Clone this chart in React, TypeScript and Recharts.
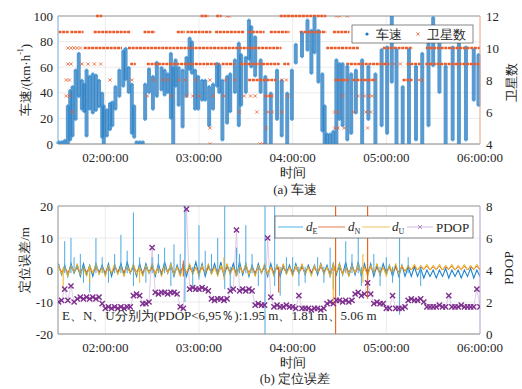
import React from "react";
import {
  ComposedChart,
  Scatter,
  Line,
  XAxis,
  YAxis,
  CartesianGrid,
  ReferenceLine,
} from "recharts";

const FONT = "Liberation Serif";

// time axis, minutes after midnight
const timeTicks = [120, 180, 240, 300, 360];
const timeLabels = ["02:00:00", "03:00:00", "04:00:00", "05:00:00", "06:00:00"];
const speedTicks = [0, 20, 40, 60, 80, 100];
const satTicks = [4, 5, 6, 7, 8, 9, 10, 11, 12];
const errTicks = [-20, -10, 0, 10, 20];
const pdopTicks = [0, 2, 4, 6, 8];

// vehicle speed: low / high of each short time slice (km/h)
const spdT = [
  90, 92, 94, 96, 97.5, 99, 101, 103, 105, 106.5, 108, 110, 112, 114, 116, 118, 119, 121, 123, 124.5,
  126.5, 129, 131.5, 133, 135, 137, 138.5, 140, 142, 144, 145.5, 148, 150.5, 153, 156, 158, 160, 162, 163.5, 165,
  167, 169.5, 172, 174, 175.5, 177.5, 179.5, 182, 184, 186.5, 189, 191.5, 193, 195, 198, 200, 203, 205.5, 207, 210,
  212, 213.5, 216, 219.5, 222.5, 226, 230, 233, 236.5, 239.5, 242, 246, 249.5, 252, 254, 256.5, 259, 260.5, 262, 264,
  266, 268, 270, 272, 275, 277.5, 280.5, 284.5, 288.5, 293, 297, 300.5, 303.5, 306.5, 310.5, 314.5, 319, 323, 327, 330,
  334, 338, 342.5, 346.5, 351, 356, 359,
];
const spdLo = [
  0, 0, 0, 0, 3, 6, 19, 37, 27, 25, 6, 27, 24, 26, 29, 5, 0, 6, 11, 14,
  27, 37, 45, 50, 40, 8, 5, 0, 0, 0, 19, 40, 27, 37, 42, 38, 40, 20, 0, 45,
  30, 13, 37, 58, 55, 27, 27, 34, 34, 14, 27, 45, 40, 3, 16, 25, 40, 14, 30, 40,
  66, 60, 53, 40, 0, 0, 19, 6, 0, 19, 63, 68, 73, 55, 71, 48, 10, 0, 0, 0,
  0, 0, 19, 14, 3, 8, 24, 0, 19, 0, 14, 8, 48, 0, 0, 0, 3, 0, 14, 61,
  40, 0, 3, 0, 3, 34, 30,
];
const spdHi = [
  2, 2, 3, 30, 42, 45, 58, 71, 50, 47, 58, 53, 55, 54, 50, 40, 30, 27, 32, 33,
  45, 58, 73, 75, 60, 47, 30, 2, 2, 2, 47, 59, 53, 64, 60, 58, 55, 71, 60, 66,
  60, 58, 68, 83, 80, 58, 53, 50, 50, 45, 47, 63, 62, 50, 53, 55, 66, 79, 70, 68,
  97, 92, 84, 66, 53, 40, 58, 50, 40, 58, 78, 87, 97, 89, 99, 89, 55, 30, 8, 8,
  10, 66, 63, 63, 61, 55, 58, 66, 61, 55, 74, 76, 100, 74, 45, 74, 61, 71, 79, 99,
  82, 61, 76, 82, 76, 74, 70,
];

// satellite count: continuous runs [start, end] per level
const satLevels = [12, 11, 10, 9, 8, 7];
const satRuns = [
  [[114, 118], [181, 186], [191, 194.5], [231.7, 261.5]],
  [[90, 96.5], [97.7, 106], [112.6, 136], [144.5, 152], [165.8, 171], [172, 188], [190.3, 209.4], [211.5, 222], [225.4, 238], [244.5, 261.5], [265.8, 276.4]],
  [[106.2, 130.7], [134.5, 232.8], [261.5, 282.8], [297.7, 316.8], [325.3, 360]],
  [[136, 139.5], [146.6, 193.5], [194.5, 203], [206.2, 231.7], [234, 238], [274.3, 302], [313, 322], [325, 360]],
  [[211.5, 229.6], [266.8, 276.4], [278.5, 293.4], [310.4, 316.8]],
  [[222, 226.5]],
];
// isolated satellite-count marks
const satPtT = [
  96, 98, 100, 102, 104, 96, 98, 105, 109, 113, 117, 305, 309, 198, 199.5, 268, 270, 275,
  95, 97, 123, 137, 151, 157, 160, 167, 171, 178, 187, 197, 203, 233, 236, 321, 323,
  95, 97, 147, 162, 172, 176, 180, 189, 196, 209, 213, 216, 227, 237, 272, 282, 286, 289, 291,
  99, 206, 217, 224, 227, 233, 267, 269, 279, 287, 290, 187, 223, 267, 269, 273, 288, 187, 219, 221,
];
const satPtN = [
  10, 10, 10, 10, 10, 9, 9, 9, 9, 9, 9, 9, 9, 12, 12, 12, 12, 12,
  8, 8, 8, 8, 8, 8, 8, 8, 8, 8, 8, 8, 8, 8, 8, 8, 8,
  7, 7, 7, 7, 7, 7, 7, 7, 7, 7, 7, 7, 7, 7, 7, 7, 7, 7, 7,
  6, 6, 6, 6, 6, 6, 6, 6, 6, 6, 6, 5, 5, 5, 5, 5, 5, 4, 4, 4,
];

// positioning errors (m) and PDOP, every 2 minutes
const errT = [
  90, 92, 94, 96, 98, 100, 102, 104, 106, 108,
  110, 112, 114, 116, 118, 120, 122, 124, 126, 128,
  130, 132, 134, 136, 138, 140, 142, 144, 146, 148,
  150, 152, 154, 156, 158, 160, 162, 164, 166, 168,
  170, 172, 174, 176, 178, 180, 182, 184, 186, 188,
  190, 192, 194, 196, 198, 200, 202, 204, 206, 208,
  210, 212, 214, 216, 218, 220, 222, 224, 226, 228,
  230, 232, 234, 236, 238, 240, 242, 244, 246, 248,
  250, 252, 254, 256, 258, 260, 262, 264, 266, 268,
  270, 272, 274, 276, 278, 280, 282, 284, 286, 288,
  290, 292, 294, 296, 298, 300, 302, 304, 306, 308,
  310, 312, 314, 316, 318, 320, 322, 324, 326, 328,
  330, 332, 334, 336, 338, 340, 342, 344, 346, 348,
  350, 352, 354, 356, 358, 360,
];
const dE = [
  2, -1.5, 1.5, -2, 2, -1, 1.5, -2, 2, -1.5,
  1.5, -2, 2, -1, 1.5, -1.5, 2, -2, 1.5, -1,
  2, -1.5, 2.5, -1, 1.5, -2, 2, -1.5, 2, -1,
  1.5, -2, 2, -1.5, 2.5, -1, 2, -2, 1.5, -1.5,
  2, -2, 1.5, -1, 2.5, -1.5, 2, -2, 1.5, -1,
  2, -1.5, 2.5, -2, 1.5, -1, 2, -2, 2.5, -1.5,
  2, -2, 1.5, -1.5, 2, -1, 1.5, -2, 2, -1.5,
  1.5, -2, 1.5, -1, 1.5, -1.5, 2, -1, 1.5, -1.5,
  1.5, -1, 1.5, -1.5, 2, -1, 1.5, -2, 2, -1.5,
  2, -1.5, 2.5, -2, 2, -1.5, 2.5, -2, 2, -1.5,
  2, -2, 1.5, -1.5, 2, -1, 1.5, -2, 1.5, -2,
  1.5, -2, 1, -2, 1, -2, 0.5, -2.5, 0, -2,
  0, -2.5, 0, -2, 0.5, -2.5, 0, -2, 0, -2.5,
  0, -2, 0.5, -2.5, 0, -2,
];
const dN = [
  0.8, -0.6, 0.6, -0.8, 0.8, -0.5, 0.6, -0.8, 0.7, -0.6,
  0.7, -0.8, 0.6, -0.6, 0.8, -0.7, 0.6, -0.8, 0.7, -0.5,
  0.8, -0.6, 0.6, -0.8, 0.8, -0.5, 0.6, -0.8, 0.7, -0.6,
  0.7, -0.8, 0.6, -0.6, 0.8, -0.7, 0.6, -0.8, 0.7, -0.5,
  0.8, -0.6, 0.6, -0.8, 0.8, -0.5, 0.6, -0.8, 0.7, -0.6,
  0.7, -0.8, 0.6, -0.6, 0.8, -0.7, 0.6, -0.8, 0.7, -0.5,
  0.8, -0.6, 0.6, -0.8, 0.8, -0.5, 0.6, -0.8, 0.7, -0.6,
  0.7, -0.8, 0.6, -0.6, 0.8, -0.7, 0.6, -0.8, 0.7, -0.5,
  0.8, -0.6, 0.6, -0.8, 0.8, -0.5, 0.6, -0.8, 0.7, -0.6,
  0.7, -0.8, 0.6, -0.6, 0.8, -0.7, 0.6, -0.8, 0.7, -0.5,
  0.8, -0.6, 0.6, -0.8, 0.8, -0.5, 0.6, -0.8, 0.7, -0.6,
  1, -0.3, 1, 0, 1.2, 0, 1, 0.2, 1.2, 0,
  1, 0.2, 1.2, 0, 1, 0.2, 1.2, 0, 1, 0.2,
  1.2, 0, 1, 0.2, 1.2, 0,
];
const dU = [
  1.5, -1.5, 1, -2, 1.5, -1, 2, -1.5, 1, -2,
  1.5, -1, 2, -1.5, 1, -2, 1.5, -1, 2, -1.5,
  1, -2, 1.5, -1, 2, -1.5, 1, -2, 1.5, -1,
  2, -1.5, 1, -2, 1.5, -1, 2, -1.5, 1, -2,
  1.5, -1, 2, -1.5, 1, -2, 1.5, -1, 2, -1.5,
  1, -2, 1.5, -1, 2, -1.5, 1, -2, 1.5, -1,
  2, -1.5, 1, -2, 1.5, -1, 2, -1.5, 1, -2,
  1.5, -1, 2, -1.5, 1, -2, 1.5, -1, 2, -1.5,
  1, -2, 1.5, -1, 2, -1.5, 1, -2, 1.5, -1,
  2, -1.5, 1, -2, 1.5, -1, 2, -1.5, 1, -2,
  1.5, -1, 2, -1.5, 1, -2, 1.5, -1, 2, -1.5,
  1.5, -0.5, 1.5, 0, 1.8, 0, 1.5, 0.2, 1.8, 0,
  1.5, 0.2, 1.8, 0, 1.5, 0.2, 1.8, 0, 1.5, 0.2,
  1.8, 0, 1.5, 0.2, 1.8, 0,
];
const pdop = [
  2.0, 2.1, 2.8, 2.1, 3.0, 2.0, 2.2, 2.3, 2.2, 2.3,
  2.2, 2.3, 2.2, 2.3, 1.9, 1.6, 1.7, 1.6, 1.7, 1.6,
  1.7, 1.6, 1.7, 1.7, 2.4, 2.5, 2.4, 1.9, 1.9, 2.0,
  5.4, 2.6, 2.5, 2.6, 2.6, 2.5, 2.6, 2.6, 2.5, 1.7,
  1.6, 7.8, 2.8, 2.9, 2.8, 2.8, 2.9, 2.8, 2.7, 2.2,
  2.1, 2.2, 2.2, 2.1, 2.2, 2.7, 2.8, 6.5, 2.7, 2.8,
  2.7, 2.8, 2.7, 1.8, 1.9, 1.8, 1.8, 6.0, 2.3, 1.7,
  1.8, 1.7, 1.7, 1.8, 1.7, 1.7, 1.6, 2.4, 1.6, 1.6,
  1.6, 1.5, 1.6, 1.6, 1.5, 1.6, 1.9, 2.0, 1.9, 2.1,
  2.1, 2.0, 2.1, 2.0, 2.1, 2.5, 2.6, 2.4, 2.5, 3.2,
  2.5, 1.9, 2.0, 1.9, 1.9, 1.6, 1.6, 2.4, 1.6, 1.6,
  1.6, 1.7, 2.1, 2.2, 2.1, 2.1, 2.2, 2.0, 1.7, 1.7,
  1.7, 1.7, 1.8, 1.7, 1.7, 2.4, 1.7, 1.7, 1.7, 1.8,
  1.7, 1.7, 1.7, 1.7, 2.8, 1.7,
];

// short error spikes: time, lowest and highest value reached (m)
const eSpkT = [
  94, 98, 100, 104, 106, 110, 114, 118, 122, 126, 130, 134, 138, 142, 146, 150, 154, 158, 162, 164,
  168, 171, 176, 180, 184, 188, 192, 196.5, 200, 204, 206, 210, 214, 218, 222.3, 228.5, 232, 236, 240, 244,
  248, 256, 260, 264, 266, 270, 274, 278, 282, 284, 288, 292, 296, 300, 304, 308.5, 314, 322,
];
const eSpkLo = [
  -1, -1, -1, -1, -4, -7, -1, -1, -4, -1, -1, -1, -5, -1, -4, -1, -1, -1, -5, -1,
  -1, -10, -5, -3, -1, -1, -1, -6, -6, -1, -1, -1, -1, -5, -20, -5, -8, -1, -1, -5,
  -4, -1, -4, -1, -6, -8, -1, -1, -1, -5, -8, -1, -5, -1, -4, -14, -1, -5,
];
const eSpkHi = [
  9, 10, 4, 5, 1, 1, 10, 4, 1, 5, 11, 6, 18, 4, 1, 4, 5, 7, 1, 8,
  5, 20, 1, 14, 6, 5, 10, 20, 1, 7, 5, 14, 5, 1, 20, 20, 1, 4, 4, 1,
  1, 4, 1, 7, 1, 1, 9, 5, 11, 1, 1, 5, 1, 4, 1, 12, 4, 1,
];
const nSpkT = [170, 231, 267.5, 288];
const nSpkLo = [-2, -7, -20, -9];
const nSpkHi = [3, 1, 20, 20];
const uSpkT = [93, 110, 142, 196, 266, 285];
const uSpkLo = [-6, -4, -4, -3, -10, -4];
const uSpkHi = [1, 1, 1, 4, 2, 5];

const speedPts = spdT.flatMap((t, i) => [
  { t, v: spdLo[i] },
  { t, v: spdHi[i] },
]);
const satPts = satPtT.map((t, i) => ({ t, v: satPtN[i] }));
const errRows = errT.map((t, i) => ({ t, dE: dE[i], dN: dN[i], dU: dU[i], p: pdop[i] }));

const SAT = "#ED5A2A";
const SPEED = "#1f77c2";
const PURPLE = "#7E2F8E";
const E_COL = "#1f84cf";
const N_COL = "#D95319";
const U_COL = "#EDB120";
const fmtTime = (v: number) => timeLabels[timeTicks.indexOf(v)] ?? "";

const XTick = (p: any) => (
  <text x={p.x} y={p.y} dy="0.71em" textAnchor="middle" fill="#262626" fontSize={13} fontFamily={FONT}>
    {fmtTime(p.payload.value)}
  </text>
);
const YTick = (p: any) => (
  <text x={p.x} y={p.y} dy="0.355em" textAnchor={p.textAnchor} fill="#262626" fontSize={13} fontFamily={FONT}>
    {p.payload.value}
  </text>
);

const SpeedDot = (p: any) => <circle cx={p.cx} cy={p.cy} r={1.3} fill="#3a8fd0" fillOpacity={0.75} />;
const SatMark = (p: any) => (
  <path
    d={`M${p.cx - 1.6},${p.cy - 1.6}L${p.cx + 1.6},${p.cy + 1.6}M${p.cx - 1.6},${p.cy + 1.6}L${p.cx + 1.6},${p.cy - 1.6}`}
    stroke={SAT}
    strokeWidth={0.8}
  />
);
const pdopDot = (p: any) => (
  <path
    key={`pd-${p.index}`}
    d={`M${p.cx - 2.6},${p.cy - 2.6}L${p.cx + 2.6},${p.cy + 2.6}M${p.cx - 2.6},${p.cy + 2.6}L${p.cx + 2.6},${p.cy - 2.6}`}
    stroke={PURPLE}
    strokeWidth={1.4}
  />
);

// vertical strokes (time, from, to) through the chart's scales
const vSegs = (ts: number[], lo: number[], hi: number[], color: string, width: number, tag: string, opacity = 1) =>
  ts.map((t, i) => (
    <ReferenceLine
      key={`${tag}-${i}`}
      yAxisId="l"
      segment={[
        { x: t, y: lo[i] },
        { x: t, y: hi[i] },
      ]}
      stroke={color}
      strokeWidth={width}
      strokeOpacity={opacity}
      ifOverflow="extendDomain"
    />
  ));

const timeAxis = (
  <XAxis
    type="number"
    dataKey="t"
    domain={[89.7, 360]}
    allowDataOverflow
    ticks={timeTicks}
    height={31}
    tickSize={0}
    tickMargin={9}
    stroke="#8c8c8c"
    tick={XTick}
  />
);

function SpeedChart() {
  return (
    <ComposedChart width={522} height={175} margin={{ top: 16, right: 0, bottom: 0, left: 0 }}>
      <CartesianGrid yAxisId="l" stroke="#e6e6e6" strokeWidth={0.8} />
      {timeAxis}
      <YAxis
        yAxisId="l"
        dataKey="v"
        domain={[0, 100]}
        allowDataOverflow
        ticks={speedTicks}
        width={58}
        tickSize={0}
        tickMargin={5}
        stroke="#7fb3dd"
        tick={YTick}
      />
      <YAxis
        yAxisId="r"
        orientation="right"
        dataKey="v"
        domain={[4, 12]}
        allowDataOverflow
        ticks={satTicks}
        width={42}
        tickSize={0}
        tickMargin={6}
        stroke="#f4a98a"
        tick={YTick}
      />
      <ReferenceLine yAxisId="l" y={100} stroke="#9a9a9a" />
      {vSegs(spdT, spdLo, spdHi, "#2a7fc4", 4, "spd", 0.78)}
      <Scatter yAxisId="l" data={speedPts} fill={SPEED} shape={SpeedDot} isAnimationActive={false} />
      {satLevels.flatMap((lvl, li) =>
        satRuns[li].map((run, ri) => (
          <ReferenceLine
            key={`run-${lvl}-${ri}`}
            yAxisId="r"
            segment={[
              { x: run[0], y: lvl },
              { x: run[1], y: lvl },
            ]}
            stroke={SAT}
            strokeWidth={2.6}
            strokeDasharray="3 0.7"
          />
        ))
      )}
      <Scatter yAxisId="r" data={satPts} fill={SAT} shape={SatMark} isAnimationActive={false} />
    </ComposedChart>
  );
}

function ErrorChart() {
  return (
    <ComposedChart width={522} height={175} data={errRows} margin={{ top: 16, right: 0, bottom: 0, left: 0 }}>
      <CartesianGrid yAxisId="l" stroke="#e6e6e6" strokeWidth={0.8} />
      {timeAxis}
      <YAxis
        yAxisId="l"
        domain={[-20, 20]}
        allowDataOverflow
        ticks={errTicks}
        width={58}
        tickSize={0}
        tickMargin={5}
        stroke="#9a9a9a"
        tick={YTick}
      />
      <YAxis
        yAxisId="r"
        orientation="right"
        domain={[0, 8]}
        allowDataOverflow
        ticks={pdopTicks}
        width={42}
        tickSize={0}
        tickMargin={6}
        stroke="#bba5d0"
        tick={YTick}
      />
      <ReferenceLine yAxisId="l" y={20} stroke="#9a9a9a" />
      <Line yAxisId="r" dataKey="p" stroke="#cdb9dd" strokeWidth={0.7} dot={pdopDot} isAnimationActive={false} />
      <Line yAxisId="l" dataKey="dE" stroke={E_COL} strokeWidth={1.1} dot={false} isAnimationActive={false} />
      <Line yAxisId="l" dataKey="dN" stroke={N_COL} strokeWidth={0.9} dot={false} isAnimationActive={false} />
      <Line yAxisId="l" dataKey="dU" stroke={U_COL} strokeWidth={1} dot={false} isAnimationActive={false} />
      {vSegs(eSpkT, eSpkLo, eSpkHi, "#4aa8e2", 1, "e")}
      {vSegs(uSpkT, uSpkLo, uSpkHi, U_COL, 1, "u")}
      {vSegs(nSpkT, nSpkLo, nSpkHi, "#E8691E", 1.2, "n")}
    </ComposedChart>
  );
}

const Sub = ({ x, s }: { x: number; s: string }) => (
  <text x={x} y={231} fontSize={13}>
    <tspan fontStyle="italic">d</tspan>
    <tspan dy={3} fontSize={8}>
      {s}
    </tspan>
  </text>
);

function Overlay() {
  return (
    <svg
      width={522}
      height={389}
      style={{ position: "absolute", left: 0, top: 0, pointerEvents: "none" }}
      fontFamily={FONT}
      fill="#262626"
    >
      {/* axis titles */}
      <text transform="translate(25,80) rotate(-90)" textAnchor="middle" dominantBaseline="central" fontSize={13}>
        车速/(km·h<tspan dy={-5} fontSize={8}>-1</tspan>
        <tspan dy={5}>)</tspan>
      </text>
      <text transform="translate(511,82) rotate(-90)" textAnchor="middle" dominantBaseline="central" fontSize={13}>
        卫星数
      </text>
      <text transform="translate(24,260) rotate(-90)" textAnchor="middle" dominantBaseline="central" fontSize={13}>
        定位误差/m
      </text>
      <text transform="translate(508,268) rotate(-90)" textAnchor="middle" dominantBaseline="central" fontSize={13}>
        PDOP
      </text>
      <text x={293} y={172} textAnchor="middle" dominantBaseline="central" fontSize={13}>时间</text>
      <text x={295} y={189} textAnchor="middle" dominantBaseline="central" fontSize={13}>(a) 车速</text>
      <text x={293} y={362} textAnchor="middle" dominantBaseline="central" fontSize={13}>时间</text>
      <text x={295} y={378} textAnchor="middle" dominantBaseline="central" fontSize={13}>(b) 定位误差</text>

      {/* speed legend */}
      <rect x={352} y={25} width={121} height={18} fill="#fff" stroke="#555" strokeWidth={0.7} />
      <circle cx={367} cy={34} r={1.6} fill={SPEED} />
      <text x={376} y={34} dominantBaseline="central" fontSize={13}>车速</text>
      <path d="M416.4,32.4L419.6,35.6M416.4,35.6L419.6,32.4" stroke={SAT} strokeWidth={0.8} />
      <text x={427} y={34} dominantBaseline="central" fontSize={13}>卫星数</text>

      {/* error legend */}
      <rect x={275} y={216} width={198} height={22} fill="#fff" stroke="#555" strokeWidth={0.7} />
      <line x1={278} x2={303} y1={227} y2={227} stroke="#4db3ea" strokeWidth={1} />
      <Sub x={306} s="E" />
      <line x1={318} x2={345} y1={227} y2={227} stroke="#E47A52" strokeWidth={1} />
      <Sub x={348} s="N" />
      <line x1={362} x2={390} y1={227} y2={227} stroke="#F2C462" strokeWidth={1} />
      <Sub x={392} s="U" />
      <line x1={407} x2={433} y1={227} y2={227} stroke="#cdb9dd" strokeWidth={1} />
      <path d="M418,225L422,229M418,229L422,225" stroke="#a98bc2" strokeWidth={1} />
      <text x={436} y={227} dominantBaseline="central" fontSize={13}>PDOP</text>

      <text x={62} y={315} dominantBaseline="central" fontSize={13}>
        E、N、U分别为(PDOP&lt;6,95％):1.95 m、1.81 m、5.06 m
      </text>
    </svg>
  );
}

export default function App() {
  return (
    <div style={{ position: "absolute", left: 0, top: 0, width: 522, height: 389, background: "#fff", fontFamily: FONT }}>
      <div style={{ position: "absolute", left: 0, top: 0 }}>
        <SpeedChart />
      </div>
      <div style={{ position: "absolute", left: 0, top: 190 }}>
        <ErrorChart />
      </div>
      <Overlay />
    </div>
  );
}
